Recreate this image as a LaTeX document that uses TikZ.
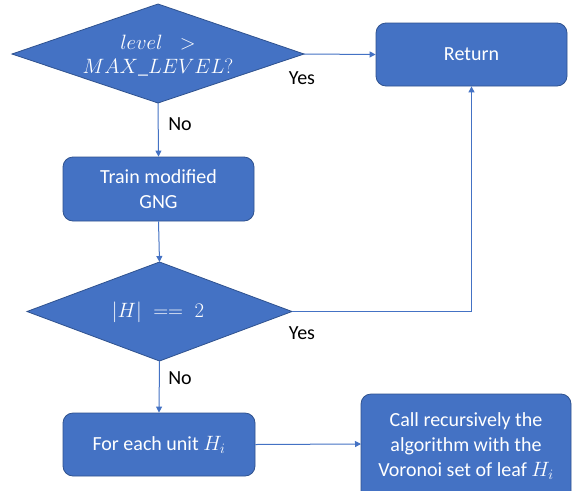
\documentclass[tikz,border=0pt]{standalone}
\usepackage{fontspec}
\setmainfont{Carlito}
\usetikzlibrary{arrows.meta}
\definecolor{boxfill}{HTML}{4472C4}
\definecolor{boxline}{HTML}{2F528F}
\definecolor{wire}{HTML}{4472C4}
\begin{document}
\begin{tikzpicture}[x=1pt,y=-1pt,
  every node/.style={font=\fontsize{20}{25}\selectfont},
  decision/.style={draw=boxline, line width=0.8pt, fill=boxfill},
  label text/.style={text=white, inner sep=0pt, align=center},
  process/.style={rectangle, rounded corners=10pt, draw=boxline, line width=0.8pt,
    fill=boxfill, text=white, inner sep=0pt, align=center},
  panel/.style={rounded corners=10pt, draw=boxline, line width=0.8pt, fill=boxfill},
  flow/.style={draw=wire, line width=1pt, -{Triangle[length=6pt,width=6pt]}},
  answer/.style={text=black, inner sep=0pt}]
\useasboundingbox (0,0) rectangle (572,490);
\fill[white] (0,0) rectangle (572,490);

% first decision: corners of the diamond
\coordinate (lvl-w) at (12,54);
\coordinate (lvl-e) at (304,54);
\coordinate (lvl-n) at (158,4);
\coordinate (lvl-s) at (158,103);
\draw[decision] (lvl-w) -- (lvl-n) -- (lvl-e) -- (lvl-s) -- cycle;
\node[label text] (lvl) at (158,56) {$level\;\;>$\\[-1pt]$MAX\_LEVEL?$};

% second decision
\coordinate (two-w) at (27,311.5);
\coordinate (two-e) at (292,311.5);
\coordinate (two-n) at (159.5,262);
\coordinate (two-s) at (159.5,361);
\draw[decision] (two-w) -- (two-n) -- (two-e) -- (two-s) -- cycle;
\node[label text] (two) at (158,312) {$|H|\;==\;2$};

% process nodes
\node[process, minimum width=191pt, minimum height=63pt] (ret) at (471.5,54.5) {Return};
\node[process, minimum width=191pt, minimum height=64pt] (train) at (158.5,189) {Train modified\\GNG};
\node[process, minimum width=192pt, minimum height=63pt] (each) at (159,444.5) {For each unit $H_i$};

% last box runs past the lower edge of the page
\coordinate (call-w) at (361,444);
\draw[panel] (361,394) rectangle (571,506);
\node[label text] (call) at (466,446)
  {Call recursively the\\algorithm with the\\Voronoi set of leaf $H_i$};

% connectors
\draw[flow] (lvl-e) -- (ret.west);
\draw[flow] (lvl-s) -- (train.north);
\draw[flow] (train.south) -- (two-n);
\coordinate (bend) at (ret.south |- two-e);
\draw[flow] (two-e) -- (bend) -- (ret.south);
\draw[flow] (two-s) -- (each.north);
\draw[flow] (each.east) -- (call-w);

% branch labels
\node[answer] (yes1) at (302,78) {Yes};
\node[answer] (no1) at (180,124) {No};
\node[answer] (yes2) at (302,333) {Yes};
\node[answer] (no2) at (180,378) {No};
\end{tikzpicture}
\end{document}
